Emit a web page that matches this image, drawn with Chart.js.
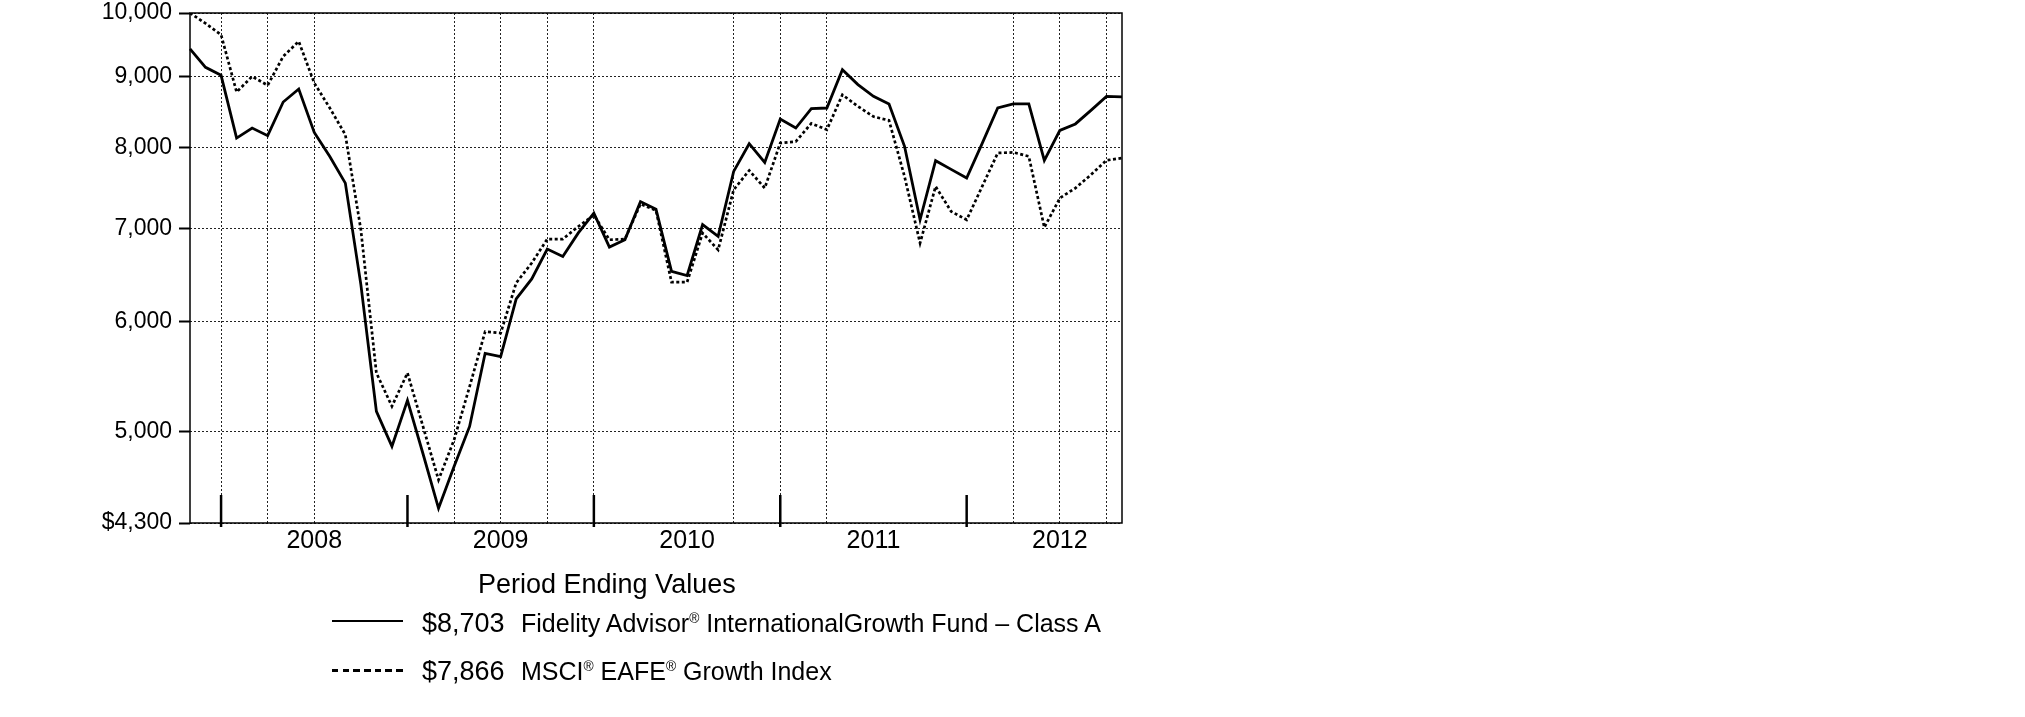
<!DOCTYPE html>
<html>
<head>
<meta charset="utf-8">
<script src="https://cdn.jsdelivr.net/npm/chart.js@4.4.1/dist/chart.umd.min.js"></script>
<style>
html,body{margin:0;padding:0;background:#fff;}
#wrap{position:relative;width:2025px;height:717px;overflow:hidden;font-family:"Liberation Sans",Arial,Helvetica,sans-serif;color:#000;}
#c{position:absolute;left:0;top:0;}
.t{position:absolute;white-space:nowrap;line-height:1;}
.t sup{font-size:55%;vertical-align:0;position:relative;top:-0.62em;}
.sw{position:absolute;}
</style>
</head>
<body>
<div id="wrap"><canvas id="c" width="2025" height="717"></canvas></div>
<script>
// ---------- data ----------
const months = ['Oct 2007','Nov 2007','Dec 2007',
'Jan 2008','Feb 2008','Mar 2008','Apr 2008','May 2008','Jun 2008','Jul 2008','Aug 2008','Sep 2008','Oct 2008','Nov 2008','Dec 2008',
'Jan 2009','Feb 2009','Mar 2009','Apr 2009','May 2009','Jun 2009','Jul 2009','Aug 2009','Sep 2009','Oct 2009','Nov 2009','Dec 2009',
'Jan 2010','Feb 2010','Mar 2010','Apr 2010','May 2010','Jun 2010','Jul 2010','Aug 2010','Sep 2010','Oct 2010','Nov 2010','Dec 2010',
'Jan 2011','Feb 2011','Mar 2011','Apr 2011','May 2011','Jun 2011','Jul 2011','Aug 2011','Sep 2011','Oct 2011','Nov 2011','Dec 2011',
'Jan 2012','Feb 2012','Mar 2012','Apr 2012','May 2012','Jun 2012','Jul 2012','Aug 2012','Sep 2012','Oct 2012'];

const fundValues = [9425,9140,9020,8130,8267,8163,8630,8818,8207,7887,7546,6380,5173,4881,5268,4822,4406,4722,5045,5694,5663,
6230,6440,6766,6684,6950,7181,6788,6871,7319,7227,6522,6476,7045,6909,7694,8055,7809,8390,8267,8535,
8545,9104,8883,8712,8603,8020,7102,7832,7720,7610,8060,8545,8603,8603,7836,8235,8323,8511,8711,8703];

const indexValues = [10000,9830,9647,8774,9003,8872,9307,9541,8906,8545,8176,6987,5512,5216,5512,5045,4618,4934,5389,5902,5888,
6398,6612,6879,6879,7024,7158,6871,6879,7290,7213,6405,6405,6948,6757,7464,7706,7485,8064,8084,8330,
8244,8735,8568,8425,8371,7630,6833,7505,7201,7102,7505,7932,7940,7888,7013,7362,7485,7651,7836,7866];

const seriesNames = ['Fidelity Advisor® InternationalGrowth Fund – Class A', 'MSCI® EAFE® Growth Index'];
const legendTitle = 'Period Ending Values';

const yTickValues = [4300,5000,6000,7000,8000,9000,10000];
const yTickLabels = ['$4,300','5,000','6,000','7,000','8,000','9,000','10,000'];
const yearLabels = ['2008','2009','2010','2011','2012'];
const yearLabelMonths = ['Jun 2008','Jun 2009','Jun 2010','Jun 2011','Jun 2012'];
const yearBoundaryMonths = ['Dec 2007','Dec 2008','Dec 2009','Dec 2010','Dec 2011'];
const gridMonths = ['Dec 2007','Mar 2008','Jun 2008','Mar 2009','Jun 2009','Sep 2009','Dec 2009',
'Sep 2010','Dec 2010','Mar 2011','Mar 2012','Jun 2012','Sep 2012'];

// ---------- chart ----------
const FONT = '"Liberation Sans", Arial, Helvetica, sans-serif';
Chart.defaults.font.family = FONT;
Chart.defaults.color = '#000';

const framePlugin = {
  id: 'frame',
  beforeDatasetsDraw(chart) {
    const {ctx, chartArea: a, scales} = chart;
    ctx.save();
    ctx.setLineDash([]);
    ctx.strokeStyle = '#000';
    ctx.lineWidth = 1.5;
    ctx.strokeRect(a.left, a.top, a.right - a.left, a.bottom - a.top);
    ctx.lineWidth = 2.5;
    yearBoundaryMonths.forEach(m => {
      const x = scales.x.getPixelForValue(months.indexOf(m));
      ctx.beginPath();
      ctx.moveTo(x, a.bottom - 28);
      ctx.lineTo(x, a.bottom + 4);
      ctx.stroke();
    });
    ctx.restore();
  }
};

new Chart(document.getElementById('c'), {
  type: 'line',
  data: {
    labels: months,
    datasets: [
      {label: seriesNames[0], data: fundValues, borderColor: '#000', borderWidth: 2.8,
       pointRadius: 0, tension: 0, fill: false},
      {label: seriesNames[1], data: indexValues, borderColor: '#000', borderWidth: 2.7,
       borderDash: [3, 2.5], pointRadius: 0, tension: 0, fill: false}
    ]
  },
  options: {
    responsive: false,
    devicePixelRatio: 1,
    animation: false,
    layout: {padding: {top: 13, right: 903, left: 0, bottom: 0}},
    plugins: {legend: {display: false}, tooltip: {enabled: false}},
    scales: {
      x: {
        type: 'category',
        offset: false,
        grid: {
          drawOnChartArea: true, drawTicks: false, lineWidth: 1,
          color: c => gridMonths.includes(months[c.index]) ? '#222' : 'rgba(0,0,0,0)'
        },
        border: {display: false, dash: [2, 2]},
        ticks: {
          autoSkip: false, maxRotation: 0, minRotation: 0, padding: 3,
          font: {size: 25}, color: '#000',
          callback: (v, i) => {
            const k = yearLabelMonths.indexOf(months[i]);
            return k >= 0 ? yearLabels[k] : '';
          }
        },
        afterFit: s => { s.height = 194; s.paddingLeft = 0; s.paddingRight = 0; }
      },
      y: {
        type: 'logarithmic',
        min: 4300, max: 10000,
        afterBuildTicks: s => { s.ticks = yTickValues.map(v => ({value: v})); },
        grid: {
          drawOnChartArea: true, drawTicks: true, lineWidth: 1, color: '#222',
          tickLength: 11, tickWidth: 2, tickColor: '#000'
        },
        border: {display: false, dash: [2, 2]},
        ticks: {
          autoSkip: false, padding: 7, font: {size: 23}, color: '#000',
          callback: (v, i) => yTickLabels[i]
        },
        afterFit: s => { s.width = 190; s.paddingTop = 0; s.paddingBottom = 0; }
      }
    }
  },
  plugins: [framePlugin]
});

// ---------- legend (HTML text) ----------
const wrap = document.getElementById('wrap');
function addText(html, left, top, size) {
  const d = document.createElement('div');
  d.className = 't';
  d.style.left = left + 'px';
  d.style.top = top + 'px';
  d.style.fontSize = size + 'px';
  d.innerHTML = html;
  wrap.appendChild(d);
}
function addSwatch(left, top, width, height, bg) {
  const d = document.createElement('div');
  d.className = 'sw';
  d.style.left = left + 'px';
  d.style.top = top + 'px';
  d.style.width = width + 'px';
  d.style.height = height + 'px';
  d.style.background = bg;
  wrap.appendChild(d);
}
const fmt = v => '$' + Math.round(v).toLocaleString('en-US');
const sup = s => s.replace(/®/g, '<sup>®</sup>');

addText(legendTitle, 478, 571, 27);
addSwatch(332, 619.5, 71, 2.5, '#000');
addSwatch(332, 668.5, 71, 3, 'repeating-linear-gradient(90deg,#000 0 6.5px,rgba(0,0,0,0) 6.5px 10.7px)');
addText(fmt(fundValues[fundValues.length - 1]), 422, 610, 27);
addText(sup(seriesNames[0]), 521, 611, 25);
addText(fmt(indexValues[indexValues.length - 1]), 422, 658, 27);
addText(sup(seriesNames[1]), 521, 659, 25);
</script>
</body>
</html>
